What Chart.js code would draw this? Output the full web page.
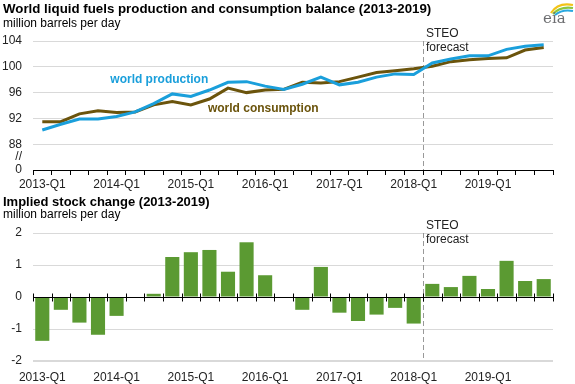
<!DOCTYPE html>
<html>
<head>
<meta charset="utf-8">
<script src="https://cdn.jsdelivr.net/npm/chart.js@4.4.1/dist/chart.umd.min.js"></script>
<style>
  body { margin: 0; background: #fff; font-family: "Liberation Sans", Arial, sans-serif; }
  #wrap { position: relative; width: 575px; height: 384px; overflow: hidden; }
  canvas { position: absolute; left: 0; }
  .t { position: absolute; left: 3px; line-height: 1; white-space: nowrap; color: #000; }
  .b { font-weight: bold; }
</style>
</head>
<body>
<div id="wrap">
  <canvas id="topChart" width="575" height="192" style="top:0"></canvas>
  <canvas id="stockChart" width="575" height="192" style="top:192px"></canvas>

  <div class="t b" style="top:1.5px;font-size:13.3px">World liquid fuels production and consumption balance (2013-2019)</div>
  <div class="t" style="top:17px;font-size:12px">million barrels per day</div>
  <div class="t b" style="top:195px;font-size:13px">Implied stock change (2013-2019)</div>
  <div class="t" style="top:208px;font-size:12px">million barrels per day</div>

  <!-- logo eia -->
  <svg style="position:absolute;left:540px;top:0" width="35" height="20">
    <path d="M11,13 Q18,2 33,5" stroke="#f2c318" stroke-width="2.2" fill="none"/>
    <path d="M13,14 Q20,6 33,8" stroke="#8cc63f" stroke-width="2.2" fill="none"/>
    <path d="M15,15 Q22,9 33,11" stroke="#29a8e0" stroke-width="2.2" fill="none"/>
  </svg>
  <div style="position:absolute;left:543px;top:9px;font:15px 'DejaVu Serif';color:#6d6e71">eia</div>
</div>

<script>
// trimestres 2013-Q1 .. 2019-Q4
const years = [2013, 2014, 2015, 2016, 2017, 2018, 2019];
const quarters = years.flatMap(y => ['Q1', 'Q2', 'Q3', 'Q4'].map(q => y + '-' + q));

// million barrels per day
const production = [90.2, 91.1, 91.9, 91.9, 92.3, 93.0, 94.3, 95.8, 95.4, 96.4, 97.6, 97.7, 97.0, 96.5,
                    97.3, 98.4, 97.2, 97.6, 98.4, 98.9, 98.8, 100.6, 101.2, 101.7, 101.7, 102.7, 103.2, 103.4];
const consumption = [91.5, 91.5, 92.7, 93.2, 92.9, 93.0, 94.1, 94.6, 94.1, 95.0, 96.7, 96.0, 96.4, 96.5,
                     97.6, 97.5, 97.7, 98.4, 99.1, 99.4, 99.7, 100.1, 100.8, 101.1, 101.3, 101.4, 102.6, 103.0];
const stockChange = [-1.37, -0.40, -0.80, -1.18, -0.59, 0.0, 0.10, 1.25, 1.40, 1.47, 0.79, 1.71, 0.68, 0.0,
                     -0.40, 0.94, -0.49, -0.75, -0.55, -0.34, -0.83, 0.41, 0.31, 0.66, 0.25, 1.13, 0.50, 0.56];

// eje con corte: 84 se muestra como 0
const topTicks = [84, 86, 88, 92, 96, 100, 104];
const topTickLabels = ['0', '//', '88', '92', '96', '100', '104'];

const forecastStart = '2018-Q2';

const prodColor = '#1a9fdb';
const consColor = '#6b540c';
const barColor = '#5b9a32';
const gridColor = '#d9d9d9';

Chart.defaults.font.family = '"Liberation Sans", Arial, sans-serif';
Chart.defaults.font.size = 12;
Chart.defaults.color = '#222';

function xLabel(v, i) {
    const l = quarters[i];
    return l.endsWith('Q1') ? l : '';
}

// linea punteada del pronostico
const forecastLine = {
    id: 'forecastLine',
    beforeDatasetsDraw(chart) {
        const x = chart.scales.x, a = chart.chartArea, c = chart.ctx;
        const i = quarters.indexOf(forecastStart);
        const px = (x.getPixelForValue(i - 1) + x.getPixelForValue(i)) / 2;
        c.save();
        c.strokeStyle = '#999';
        c.lineWidth = 1;
        c.setLineDash([5, 3]);
        c.beginPath();
        c.moveTo(Math.round(px) + 0.5, a.top);
        c.lineTo(Math.round(px) + 0.5, a.bottom);
        c.stroke();
        c.restore();
    },
    afterDatasetsDraw(chart) {
        const x = chart.scales.x, a = chart.chartArea, c = chart.ctx;
        const i = quarters.indexOf(forecastStart);
        const px = (x.getPixelForValue(i - 1) + x.getPixelForValue(i)) / 2;
        c.save();
        c.fillStyle = '#222';
        c.font = '12px "Liberation Sans", Arial, sans-serif';
        c.textAlign = 'left';
        c.textBaseline = 'alphabetic';
        c.fillText('STEO', px + 3, a.top - 4);
        c.fillText('forecast', px + 3, a.top + 9.5);
        c.restore();
    }
};

// etiquetas de las series
const seriesLabels = [
    { text: 'world production', at: 6.3, value: 98.0, color: prodColor, align: 'center' },
    { text: 'world consumption', at: 8.92, value: 93.56, color: consColor, align: 'left' }
];
const lineLabels = {
    id: 'lineLabels',
    afterDatasetsDraw(chart) {
        const x = chart.scales.x, y = chart.scales.y, c = chart.ctx;
        const step = x.getPixelForValue(1) - x.getPixelForValue(0);
        c.save();
        c.font = 'bold 12px "Liberation Sans", Arial, sans-serif';
        c.textBaseline = 'middle';
        seriesLabels.forEach(l => {
            c.fillStyle = l.color;
            c.textAlign = l.align;
            c.fillText(l.text, x.getPixelForValue(0) + l.at * step, y.getPixelForValue(l.value));
        });
        c.restore();
    }
};

// eje cero con marcas, y linea de -2
const zeroAxis = {
    id: 'zeroAxis',
    beforeDatasetsDraw(chart) {
        const y = chart.scales.y, a = chart.chartArea, c = chart.ctx;
        const yb = Math.round(y.getPixelForValue(y.min)) - 0.5;
        c.save();
        c.strokeStyle = gridColor;
        c.lineWidth = 1;
        c.beginPath();
        c.moveTo(a.left, yb);
        c.lineTo(a.right, yb);
        c.stroke();
        c.restore();
    },
    afterDatasetsDraw(chart) {
        const x = chart.scales.x, y = chart.scales.y, a = chart.chartArea, c = chart.ctx;
        const y0 = Math.round(y.getPixelForValue(0)) + 0.5;
        const half = (x.getPixelForValue(1) - x.getPixelForValue(0)) / 2;
        c.save();
        c.strokeStyle = '#000';
        c.lineWidth = 1;
        c.beginPath();
        c.moveTo(a.left, y0);
        c.lineTo(a.right, y0);
        for (let i = 0; i <= quarters.length; i++) {
            const px = Math.round(x.getPixelForValue(i) - half) + 0.5;
            c.moveTo(px, y0 - 4);
            c.lineTo(px, y0 + 4);
        }
        c.stroke();
        c.restore();
    }
};

new Chart(document.getElementById('topChart'), {
    type: 'line',
    data: {
        labels: quarters,
        datasets: [
            { label: 'world production', data: production, borderColor: prodColor, borderWidth: 3, pointRadius: 0, tension: 0 },
            { label: 'world consumption', data: consumption, borderColor: consColor, borderWidth: 3, pointRadius: 0, tension: 0 }
        ]
    },
    options: {
        responsive: false,
        animation: false,
        layout: { padding: { top: 41, right: 22, left: 0, bottom: 0 } },
        plugins: { legend: { display: false }, tooltip: { enabled: false } },
        scales: {
            x: {
                offset: true,
                grid: { offset: true, drawOnChartArea: false, color: '#000', tickLength: 5 },
                border: { color: '#000' },
                ticks: { autoSkip: false, maxRotation: 0, padding: 2, callback: xLabel },
                afterFit(s) { s.height = 22; }
            },
            y: {
                min: 84,
                max: 104,
                afterBuildTicks(s) { s.ticks = topTicks.map(v => ({ value: v })); },
                ticks: { padding: 11, callback: v => topTickLabels[topTicks.indexOf(v)] },
                grid: { drawTicks: false, color: ctx => (ctx.tick && ctx.tick.value > 86) ? gridColor : 'rgba(0,0,0,0)' },
                border: { display: false },
                afterFit(s) { s.width = 33; }
            }
        }
    },
    plugins: [forecastLine, lineLabels]
});

new Chart(document.getElementById('stockChart'), {
    type: 'bar',
    data: {
        labels: quarters,
        datasets: [{ data: stockChange, backgroundColor: barColor, barPercentage: 0.76, categoryPercentage: 1 }]
    },
    options: {
        responsive: false,
        animation: false,
        layout: { padding: { top: 41, right: 22, left: 0, bottom: 0 } },
        plugins: { legend: { display: false }, tooltip: { enabled: false } },
        scales: {
            x: {
                grid: { display: false },
                border: { display: false },
                ticks: { autoSkip: false, maxRotation: 0, padding: 1, callback: xLabel },
                afterFit(s) { s.height = 23; }
            },
            y: {
                min: -2,
                max: 2,
                ticks: { stepSize: 1, padding: 11 },
                grid: { drawTicks: false, color: ctx => (ctx.tick && ctx.tick.value === 0) ? 'rgba(0,0,0,0)' : gridColor },
                border: { display: false },
                afterFit(s) { s.width = 33; }
            }
        }
    },
    plugins: [zeroAxis, forecastLine]
});
</script>
</body>
</html>
